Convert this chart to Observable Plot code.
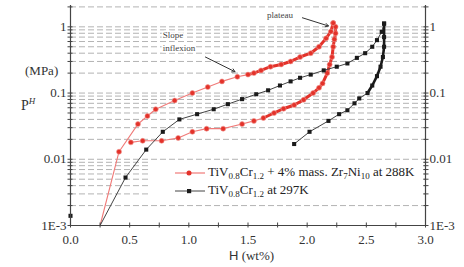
<!DOCTYPE html>
<html><head><meta charset="utf-8">
<script src="https://cdn.jsdelivr.net/npm/d3@7"></script>
<script src="https://cdn.jsdelivr.net/npm/@observablehq/plot@0.6"></script>
<style>
body{margin:0;background:#fff;}
#wrap{position:relative;width:464px;height:267px;font-family:"Liberation Serif","Times New Roman",serif;color:#333;}
#wrap svg text{font-family:"Liberation Serif","Times New Roman",serif;}
.ov{position:absolute;white-space:nowrap;font-family:"Liberation Serif","Times New Roman",serif;}
sub{font-size:9px;vertical-align:-3px;line-height:0;}
sup{font-size:9px;vertical-align:6px;line-height:0;font-style:italic;}
</style></head><body><div id="wrap"></div>
<script>
// ---- data ----
const redAbsH = [0.25,0.41,0.57,0.65,0.72,0.88,1.03,1.16,1.28,1.41,1.50,1.55,1.61,1.69,1.78,1.86,1.94,2.03,2.10,2.16,2.20,2.22];
const redAbsP = [0.001,0.013,0.034,0.045,0.057,0.077,0.10,0.123,0.150,0.176,0.19,0.20,0.22,0.25,0.27,0.30,0.35,0.40,0.50,0.67,0.85,1.14];
const redDesH = [0.51,0.61,0.77,0.91,1.03,1.15,1.29,1.45,1.55,1.63,1.72,1.80,1.89,1.97,2.05,2.10,2.13,2.17,2.19,2.21,2.22,2.23,2.24,2.24,2.22];
const redDesP = [0.018,0.019,0.019,0.021,0.026,0.029,0.029,0.034,0.038,0.042,0.050,0.058,0.066,0.079,0.10,0.12,0.14,0.20,0.27,0.35,0.50,0.65,0.80,1.0,1.14];
const blkAbsH = [0.25,0.465,0.64,0.78,0.92,1.07,1.21,1.33,1.45,1.57,1.67,1.77,1.86,1.94,2.03,2.14,2.25,2.34,2.42,2.49,2.55,2.59,2.63,2.65];
const blkAbsP = [0.001,0.0053,0.014,0.026,0.040,0.048,0.057,0.068,0.081,0.096,0.11,0.13,0.15,0.17,0.19,0.22,0.25,0.28,0.34,0.40,0.50,0.63,0.84,1.12];
const blkDesH = [1.89,2.02,2.18,2.27,2.34,2.40,2.44,2.51,2.55,2.59,2.62,2.64,2.65,2.65,2.65];
const blkDesP = [0.017,0.026,0.038,0.048,0.055,0.070,0.083,0.10,0.13,0.18,0.25,0.35,0.50,0.70,1.12];
const blkExtraH = [0.0];
const blkExtraP = [0.0014];

const yTickVals = [0.001,0.01,0.1,1];
const yTickLabels = ["1E-3","0.01","0.1","1"];
const xTickVals = [0,0.5,1,1.5,2,2.5,3];
const xTickLabels = ["0.0","0.5","1.0","1.5","2.0","2.5","3.0"];
const xMinorTicks = [0,0.25,0.5,0.75,1,1.25,1.5,1.75,2,2.25,2.5,2.75,3];
const gridMultipliers = [1,2,3,4,5,6,7,8,9];

const annoLabels = ["plateau","Slope","inflexion"];
const annoH = [1.66,0.78,0.78];
const annoP = [1.52,0.76,0.48];
const arrowFromH = [1.96,1.14], arrowFromP = [1.37,0.35];
const arrowToH = [2.18,1.39], arrowToP = [1.03,0.21];

// ---- build tables ----
const rows = (Hs,Ps) => Hs.map((h,i) => ({H:h, P:Ps[i]}));
const redAbs = rows(redAbsH, redAbsP), redDes = rows(redDesH, redDesP);
const blkAbs = rows(blkAbsH, blkAbsP), blkDes = rows(blkDesH, blkDesP);
const blkExtra = rows(blkExtraH, blkExtraP);
const gridVals = [];
for (const dec of yTickVals) for (const m of gridMultipliers) { const v = dec*m; if (v <= 2.05) gridVals.push(v); }
const yMinor = gridVals;
const annos = annoLabels.map((t,i) => ({t, H:annoH[i], P:annoP[i]}));
const arrows = arrowFromH.map((h,i) => ({x1:h, y1:arrowFromP[i], x2:arrowToH[i], y2:arrowToP[i]}));

const FONT = '"Liberation Serif", "Times New Roman", serif';
const RED = "#e3322a", PINK = "#f07a78", BLK = "#1a1a1a", AX = "#444";
const isDot = d => d.P > 0.001;

const chart = Plot.plot({
  width: 464, height: 267,
  marginLeft: 70, marginRight: 39, marginTop: 5, marginBottom: 42,
  style: {fontFamily: FONT, fontSize: "13px", color: "#333", background: "white", overflow: "visible"},
  x: {domain: [0, 3]},
  y: {type: "log", domain: [0.001, 2.1]},
  marks: [
    Plot.ruleY(gridVals, {stroke: "#a0a0a0", strokeDasharray: "6,3", strokeWidth: 0.8}),
    // red series
    Plot.line(redAbs, {x: "H", y: "P", stroke: PINK, strokeWidth: 1.1}),
    Plot.line(redAbs.filter(d => d.H >= 1.45), {x: "H", y: "P", stroke: RED, strokeWidth: 3}),
    Plot.line(redDes, {x: "H", y: "P", stroke: PINK, strokeWidth: 1.1}),
    Plot.line(redDes.filter(d => d.H >= 1.6), {x: "H", y: "P", stroke: RED, strokeWidth: 3}),
    Plot.dot(redAbs.filter(isDot), {x: "H", y: "P", r: 2.5, fill: RED, stroke: "#f29a96", strokeWidth: 0.6}),
    Plot.dot(redDes, {x: "H", y: "P", r: 2.5, fill: RED, stroke: "#f29a96", strokeWidth: 0.6}),
    // black series
    Plot.line(blkAbs, {x: "H", y: "P", stroke: "#444", strokeWidth: 1}),
    Plot.line(blkDes, {x: "H", y: "P", stroke: "#444", strokeWidth: 1}),
    Plot.line(blkDes.filter(d => d.H >= 2.5), {x: "H", y: "P", stroke: BLK, strokeWidth: 2.6}),
    Plot.dot(blkAbs.filter(isDot), {x: "H", y: "P", r: 2.3, symbol: "square", fill: BLK}),
    Plot.dot(blkDes, {x: "H", y: "P", r: 2.3, symbol: "square", fill: BLK}),
    Plot.dot(blkExtra, {x: "H", y: "P", r: 2.3, symbol: "square", fill: BLK}),
    // annotations
    Plot.arrow(arrows, {x1: "x1", y1: "y1", x2: "x2", y2: "y2", stroke: "#333", strokeWidth: 1, headLength: 5}),
    Plot.text(annos, {x: "H", y: "P", text: "t", textAnchor: "start", fontSize: 9, fontFamily: FONT, fill: "#444", stroke: "white", strokeWidth: 3}),
    // frame lines
    Plot.ruleX([0], {stroke: AX, strokeWidth: 1.2}),
    Plot.ruleX([3], {stroke: AX, strokeWidth: 1.2}),
    Plot.ruleY([0.001], {stroke: AX, strokeWidth: 1.2}),
    // ticks
    Plot.axisY(yMinor, {anchor: "left", tickSize: 5, dx: 2.5, tickFormat: () => "", label: null, stroke: AX}),
    Plot.axisY(yMinor, {anchor: "right", tickSize: 5, dx: -2.5, tickFormat: () => "", label: null, stroke: AX}),
    Plot.axisX(xMinorTicks, {anchor: "bottom", tickSize: 5, dy: -2.5, tickFormat: () => "", label: null, stroke: AX}),
    // labels
    Plot.axisY(yTickVals, {anchor: "left", tickSize: 0, tickPadding: 4, tickFormat: d => yTickLabels[yTickVals.indexOf(d)], label: null, fontSize: 13, fontFamily: FONT, fill: "#333"}),
    Plot.axisY(yTickVals, {anchor: "right", tickSize: 0, tickPadding: 4, tickFormat: d => yTickLabels[yTickVals.indexOf(d)], label: null, fontSize: 13, fontFamily: FONT, fill: "#333"}),
    Plot.axisX(xTickVals, {anchor: "bottom", tickSize: 0, tickPadding: 9, tickFormat: d => xTickLabels[xTickVals.indexOf(d)], label: null, fontSize: 13, fontFamily: FONT, fill: "#333"})
  ]
});
const wrap = document.getElementById("wrap");
wrap.appendChild(chart);

// legend and axis titles
const legend = document.createElement("div");
legend.className = "ov";
legend.style.cssText = "left:148px;top:161px;width:275px;height:40px;background:#fff;";
legend.innerHTML = `
<svg style="position:absolute;left:27px;top:7px" width="32" height="10">
  <line x1="0" y1="5" x2="30" y2="5" stroke="${PINK}" stroke-width="1.2"/>
  <circle cx="14" cy="5" r="2.5" fill="${RED}"/>
</svg>
<div class="ov" style="left:60px;top:3px;font-size:13px;line-height:16px;color:#222">TiV<sub>0.8</sub>Cr<sub>1.2</sub> + 4% mass. Zr<sub>7</sub>Ni<sub>10</sub> at 288K</div>
<svg style="position:absolute;left:27px;top:25px" width="32" height="10">
  <line x1="0" y1="5" x2="30" y2="5" stroke="#444" stroke-width="1"/>
  <rect x="12" y="3" width="4.2" height="4.2" fill="${BLK}"/>
</svg>
<div class="ov" style="left:60px;top:21px;font-size:13px;line-height:16px;color:#222">TiV<sub>0.8</sub>Cr<sub>1.2</sub> at 297K</div>`;
wrap.appendChild(legend);

const mpa = document.createElement("div");
mpa.className = "ov";
mpa.style.cssText = "left:25px;top:63px;font-size:13px;color:#333;";
mpa.textContent = "(MPa)";
wrap.appendChild(mpa);

const pl = document.createElement("div");
pl.className = "ov";
pl.style.cssText = "left:21px;top:98px;font-size:14px;color:#333;";
pl.innerHTML = "P<sup>H</sup>";
wrap.appendChild(pl);

const xl = document.createElement("div");
xl.className = "ov";
xl.style.cssText = "left:229px;top:248px;font-size:13px;color:#333;";
xl.innerHTML = `<span style="font-family:'Liberation Sans',sans-serif">H</span> (wt%)`;
wrap.appendChild(xl);
</script>
</body></html>
